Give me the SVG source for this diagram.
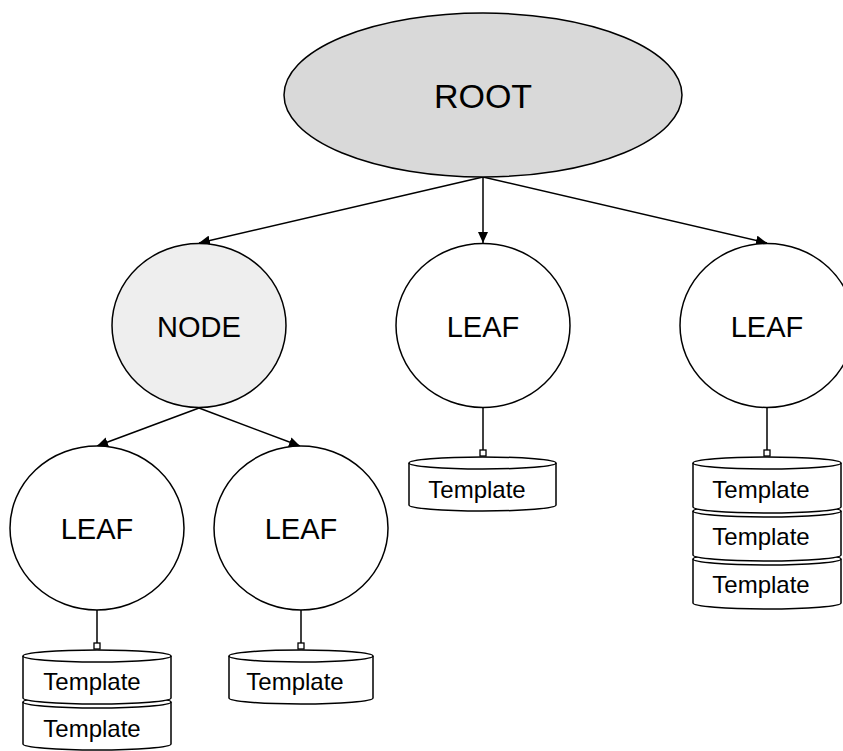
<svg xmlns="http://www.w3.org/2000/svg" width="843" height="751" viewBox="0 0 843 751">
<style>
.n{stroke:#000;stroke-width:1.5}
.t{font-family:"Liberation Sans",Arial,sans-serif;fill:#000;text-anchor:middle}
.big{font-size:29px}
.tp{font-size:24px}
.cy{fill:#fff;stroke:#000;stroke-width:1.5}
.e{stroke:#000;stroke-width:1.5;fill:none}
.sq{fill:#fff;stroke:#000;stroke-width:1.3}
</style>
<defs>
<marker id="ah" markerWidth="12" markerHeight="10" refX="11" refY="5" orient="auto" markerUnits="userSpaceOnUse">
<path d="M0,0 L11,5 L0,10 Z" fill="#000"/>
</marker>
</defs>
<rect width="843" height="751" fill="#fff"/>
<g id="connectors">
<line class="e" x1="483" y1="177" x2="199" y2="243" marker-end="url(#ah)"/>
<line class="e" x1="483" y1="177" x2="483" y2="243" marker-end="url(#ah)"/>
<line class="e" x1="483" y1="177" x2="767" y2="243" marker-end="url(#ah)"/>
<line class="e" x1="199" y1="408" x2="97" y2="446" marker-end="url(#ah)"/>
<line class="e" x1="199" y1="408" x2="300" y2="446" marker-end="url(#ah)"/>
<line class="e" x1="483" y1="408" x2="483" y2="450"/>
<rect class="sq" x="480" y="450" width="6" height="6"/>
<line class="e" x1="767" y1="408" x2="767" y2="450"/>
<rect class="sq" x="764" y="450" width="6" height="6"/>
<line class="e" x1="97" y1="610" x2="97" y2="643"/>
<rect class="sq" x="94" y="643" width="6" height="6"/>
<line class="e" x1="301" y1="610" x2="301" y2="643"/>
<rect class="sq" x="298" y="643" width="6" height="6"/>
</g>
<g id="root">
<ellipse class="n" cx="483" cy="95" rx="199" ry="82" fill="#d9d9d9"/>
<text class="t" x="483" y="108" font-size="34">ROOT</text>
</g>
<g id="node">
<ellipse class="n" cx="199" cy="325.5" rx="87" ry="82" fill="#eeeeee"/>
<text class="t big" x="199" y="337">NODE</text>
</g>
<g id="leaf-mid">
<ellipse class="n" cx="483" cy="325.5" rx="87" ry="82" fill="#fff"/>
<text class="t big" x="483" y="337">LEAF</text>
</g>
<g id="leaf-right">
<ellipse class="n" cx="767" cy="325.5" rx="87" ry="82" fill="#fff"/>
<text class="t big" x="767" y="337">LEAF</text>
</g>
<g id="leaf-ll">
<ellipse class="n" cx="97" cy="528" rx="87" ry="82" fill="#fff"/>
<text class="t big" x="97" y="539">LEAF</text>
</g>
<g id="leaf-lr">
<ellipse class="n" cx="301" cy="528" rx="87" ry="82" fill="#fff"/>
<text class="t big" x="301" y="539">LEAF</text>
</g>
<g id="tpl-mid">
<path class="cy" d="M409,463 A73.5,6 0 0 1 556,463 V505 A73.5,6 0 0 1 409,505 Z"/>
<path class="e" d="M409,463 A73.5,6 0 0 0 556,463"/>
<text class="t tp" x="477" y="498">Template</text>
</g>
<g id="tpl-right">
<path class="cy" d="M693,559 A74,6 0 0 1 841,559 V603 A74,6 0 0 1 693,603 Z"/>
<path class="e" d="M693,559 A74,6 0 0 0 841,559"/>
<text class="t tp" x="761" y="593">Template</text>
<path class="cy" d="M693,511 A74,6 0 0 1 841,511 V555 A74,6 0 0 1 693,555 Z"/>
<path class="e" d="M693,511 A74,6 0 0 0 841,511"/>
<text class="t tp" x="761" y="545">Template</text>
<path class="cy" d="M693,463 A74,6 0 0 1 841,463 V507 A74,6 0 0 1 693,507 Z"/>
<path class="e" d="M693,463 A74,6 0 0 0 841,463"/>
<text class="t tp" x="761" y="498">Template</text>
</g>
<g id="tpl-left">
<path class="cy" d="M23,702 A74,6 0 0 1 171,702 V744 A74,6 0 0 1 23,744 Z"/>
<path class="e" d="M23,702 A74,6 0 0 0 171,702"/>
<text class="t tp" x="92" y="737">Template</text>
<path class="cy" d="M23,656 A74,6 0 0 1 171,656 V698 A74,6 0 0 1 23,698 Z"/>
<path class="e" d="M23,656 A74,6 0 0 0 171,656"/>
<text class="t tp" x="92" y="690">Template</text>
</g>
<g id="tpl-lr">
<path class="cy" d="M229,656 A72,6 0 0 1 373,656 V698 A72,6 0 0 1 229,698 Z"/>
<path class="e" d="M229,656 A72,6 0 0 0 373,656"/>
<text class="t tp" x="295" y="690">Template</text>
</g>
</svg>
